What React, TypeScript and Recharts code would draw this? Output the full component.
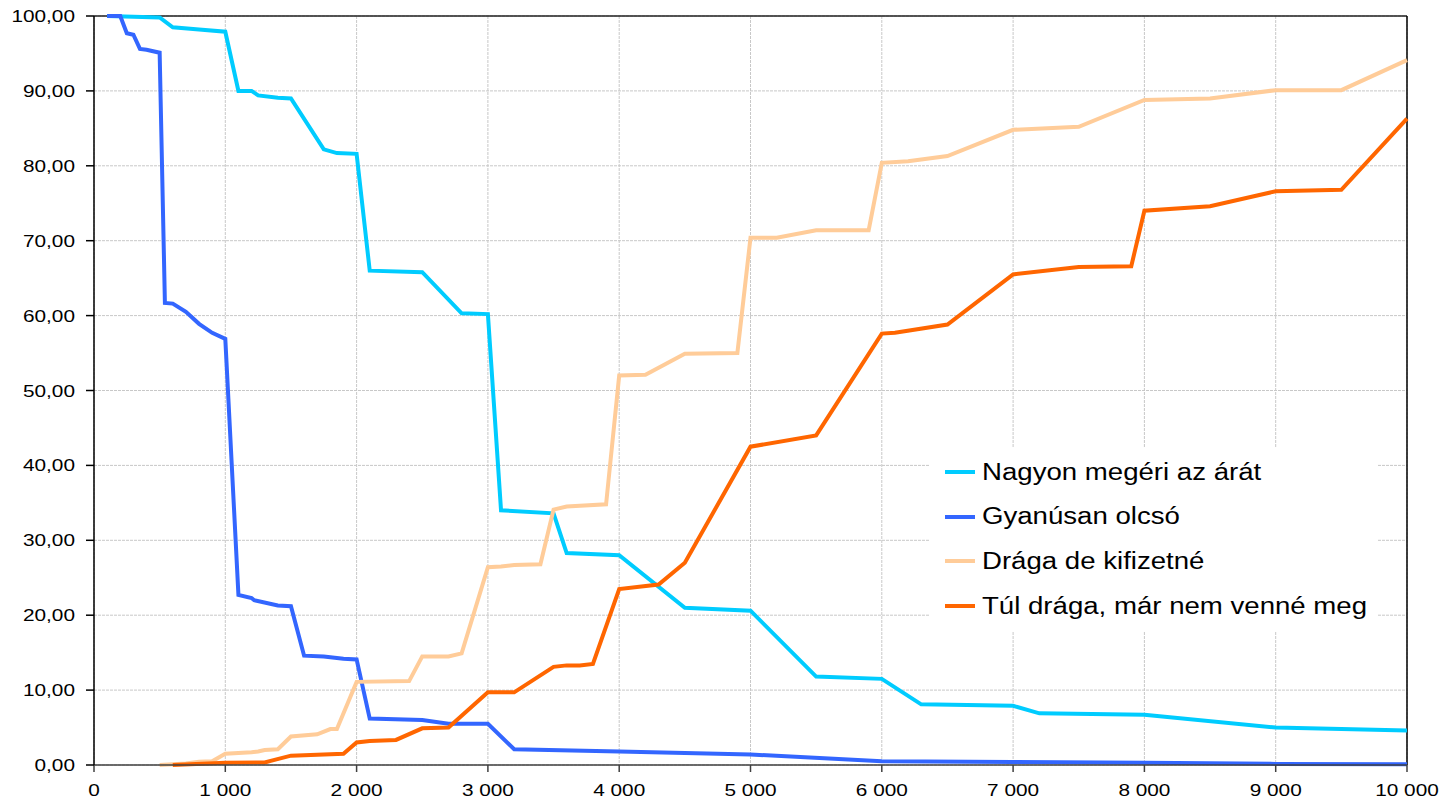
import React from 'react';
import { LineChart, Line, XAxis, YAxis, CartesianGrid, ReferenceLine } from 'recharts';

const nagyonPrice = [100, 500, 600, 800, 1000, 1100, 1200, 1250, 1400, 1500, 1750, 1850, 2000, 2100, 2500, 2800, 3000, 3100, 3500, 3600, 4000, 4500, 5000, 5500, 6000, 6300, 7000, 7200, 8000, 9000, 10000];
const nagyonPct = [100, 99.8, 98.5, 98.2, 97.9, 90.0, 90.0, 89.4, 89.1, 89.0, 82.2, 81.7, 81.6, 66.0, 65.8, 60.3, 60.2, 34.0, 33.6, 28.3, 28.0, 21.0, 20.6, 11.8, 11.5, 8.1, 7.9, 6.9, 6.7, 5.0, 4.6];

const gyanusPrice = [100, 200, 250, 300, 350, 400, 500, 540, 600, 700, 800, 900, 1000, 1100, 1200, 1220, 1400, 1500, 1600, 1750, 1900, 2000, 2100, 2500, 2700, 3000, 3200, 4000, 5000, 6000, 7000, 8000, 9000, 10000];
const gyanusPct = [100, 100, 97.7, 97.5, 95.6, 95.5, 95.1, 61.7, 61.6, 60.5, 58.9, 57.7, 56.9, 22.7, 22.3, 22.0, 21.3, 21.2, 14.6, 14.5, 14.2, 14.1, 6.2, 6.0, 5.5, 5.5, 2.1, 1.8, 1.4, 0.5, 0.4, 0.3, 0.15, 0.1];

const dragaPrice = [500, 600, 700, 800, 900, 1000, 1200, 1250, 1300, 1400, 1500, 1700, 1800, 1850, 2000, 2400, 2500, 2700, 2800, 3000, 3100, 3200, 3400, 3500, 3600, 3900, 4000, 4200, 4500, 4900, 5000, 5200, 5500, 5900, 6000, 6200, 6500, 7000, 7500, 8000, 8500, 9000, 9500, 10000];
const dragaPct = [0, 0.1, 0.2, 0.45, 0.5, 1.5, 1.7, 1.8, 2.0, 2.1, 3.8, 4.1, 4.8, 4.8, 11.1, 11.2, 14.5, 14.5, 14.9, 26.4, 26.5, 26.7, 26.8, 34.1, 34.5, 34.8, 52.0, 52.1, 54.9, 55.0, 70.4, 70.4, 71.4, 71.4, 80.4, 80.6, 81.3, 84.8, 85.2, 88.8, 89.0, 90.1, 90.1, 94.1];

const tulPrice = [600, 1000, 1300, 1500, 1900, 2000, 2100, 2300, 2500, 2700, 3000, 3200, 3500, 3600, 3700, 3800, 4000, 4300, 4500, 5000, 5500, 6000, 6100, 6500, 7000, 7500, 7900, 8000, 8500, 9000, 9500, 10000];
const tulPct = [0, 0.3, 0.35, 1.25, 1.5, 3.0, 3.2, 3.35, 4.9, 5.0, 9.7, 9.7, 13.1, 13.3, 13.3, 13.5, 23.5, 24.1, 27.0, 42.5, 44.0, 57.6, 57.7, 58.8, 65.5, 66.5, 66.6, 74.0, 74.6, 76.6, 76.8, 86.3];

const xTicks = [0, 1000, 2000, 3000, 4000, 5000, 6000, 7000, 8000, 9000, 10000];
const yTicks = [0, 10, 20, 30, 40, 50, 60, 70, 80, 90, 100];

const toPoints = (xs: number[], ys: number[]) => xs.map((x, i) => ({ price: x, pct: ys[i] }));

const series = [
  { name: 'Nagyon megéri az árát', color: '#00CCFF', data: toPoints(nagyonPrice, nagyonPct) },
  { name: 'Gyanúsan olcsó', color: '#3366FF', data: toPoints(gyanusPrice, gyanusPct) },
  { name: 'Drága de kifizetné', color: '#FFCC99', data: toPoints(dragaPrice, dragaPct) },
  { name: 'Túl drága, már nem venné meg', color: '#FF6600', data: toPoints(tulPrice, tulPct) },
];

const font = '"Liberation Sans", Arial, sans-serif';

const fmtX = (v: number) => String(v).replace(/\B(?=(\d{3})+(?!\d))/g, ' ');
const fmtY = (v: number) => v.toFixed(2).replace('.', ',');

// the original is stretched sideways, so the glyphs get a horizontal scale
const XTick = (props: any) => {
  const { x, y, payload } = props;
  return (
    <text transform={`translate(${x},${y + 22}) scale(1.3,1)`} textAnchor="middle" fontFamily={font} fontSize={16} fill="#000">
      {fmtX(payload.value)}
    </text>
  );
};

const YTick = (props: any) => {
  const { y, payload } = props;
  return (
    <text transform={`translate(75,${y + 6}) scale(1.3,1)`} textAnchor="end" fontFamily={font} fontSize={16} fill="#000">
      {fmtY(payload.value)}
    </text>
  );
};

const LegendBox = () => (
  <div style={{ position: 'absolute', left: 930, top: 448, width: 448, height: 184, background: '#fff', fontFamily: font, fontSize: 23, color: '#000' }}>
    {series.map((s, i) => (
      <div key={s.name} style={{ position: 'absolute', left: 15, top: 24 + i * 44.7 - 12, height: 24, display: 'flex', alignItems: 'center' }}>
        <span style={{ display: 'inline-block', width: 30, height: 4, background: s.color, marginRight: 7 }} />
        <span style={{ display: 'inline-block', transform: 'scaleX(1.2)', transformOrigin: 'left center', whiteSpace: 'nowrap' }}>{s.name}</span>
      </div>
    ))}
  </div>
);

export default function App() {
  return (
    <div style={{ position: 'absolute', left: 0, top: 0, width: 1443, height: 803, background: '#fff' }}>
      <LineChart width={1443} height={803} margin={{ top: 16, right: 36, bottom: 0, left: 0 }}>
        <CartesianGrid stroke="#c8c8c8" strokeDasharray="3 1" />
        <XAxis
          type="number"
          dataKey="price"
          domain={[0, 10000]}
          ticks={xTicks}
          height={38}
          stroke="#404040"
          strokeWidth={1.5}
          tickSize={7}
          tick={<XTick />}
        />
        <YAxis
          type="number"
          domain={[0, 100]}
          ticks={yTicks}
          width={94}
          stroke="#000"
          strokeWidth={1.5}
          tickSize={8}
          tick={<YTick />}
        />
        <ReferenceLine y={100} stroke="#222" strokeWidth={1.5} />
        <ReferenceLine x={10000} stroke="#000" strokeWidth={1.5} />
        {series.map(s => (
          <Line
            key={s.name}
            data={s.data}
            dataKey="pct"
            name={s.name}
            type="linear"
            stroke={s.color}
            strokeWidth={4}
            dot={false}
            isAnimationActive={false}
          />
        ))}
      </LineChart>
      <LegendBox />
    </div>
  );
}
